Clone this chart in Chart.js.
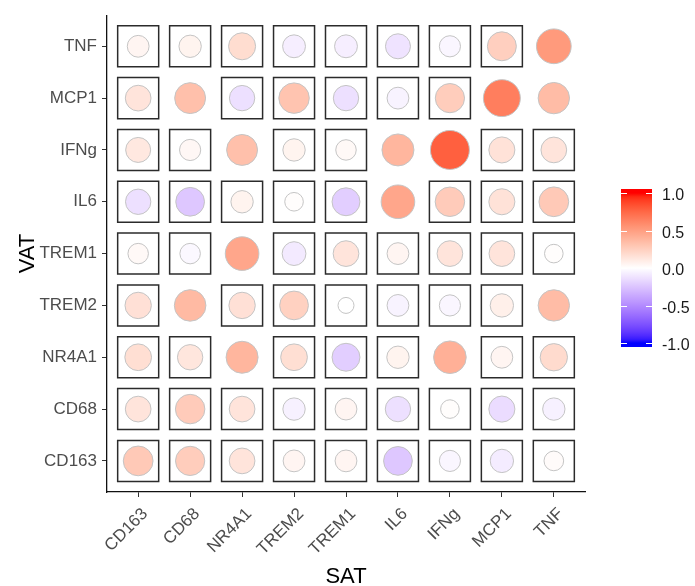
<!DOCTYPE html>
<html>
<head>
<meta charset="utf-8">
<script src="https://cdn.jsdelivr.net/npm/chart.js@4.4.1/dist/chart.umd.min.js"></script>
<style>
  html, body { margin: 0; padding: 0; background: #fff; }
  #wrap { width: 695px; height: 586px; }
</style>
</head>
<body>
<div id="wrap"><canvas id="corrChart" width="695" height="586"></canvas></div>
<script>
// genes on both axes, bottom-to-top for VAT, left-to-right for SAT
const satGenes = ['CD163', 'CD68', 'NR4A1', 'TREM2', 'TREM1', 'IL6', 'IFNg', 'MCP1', 'TNF'];
const vatGenes = ['CD163', 'CD68', 'NR4A1', 'TREM2', 'TREM1', 'IL6', 'IFNg', 'MCP1', 'TNF'];

// correlation of each VAT gene with the SAT genes (same order as satGenes)
const rCD163 = [0.28, 0.26, 0.14, 0.05, 0.05, -0.24, -0.04, -0.08, 0.02];
const rCD68  = [0.14, 0.27, 0.14, -0.06, 0.05, -0.13, 0.01, -0.15, -0.06];
const rNR4A1 = [0.17, 0.13, 0.38, 0.17, -0.21, 0.06, 0.41, 0.05, 0.19];
const rTREM2 = [0.16, 0.36, 0.16, 0.24, 0.00, -0.05, -0.04, 0.08, 0.35];
const rTREM1 = [0.03, -0.03, 0.46, -0.09, 0.14, 0.05, 0.14, 0.14, 0.01];
const rIL6   = [-0.13, -0.24, 0.06, 0.01, -0.21, 0.46, 0.27, 0.15, 0.28];
const rIFNg  = [0.12, 0.04, 0.33, 0.06, 0.03, 0.38, 0.78, 0.15, 0.14];
const rMCP1  = [0.14, 0.33, -0.13, 0.31, -0.13, -0.05, 0.26, 0.65, 0.35];
const rTNF   = [0.05, 0.06, 0.18, -0.07, -0.07, -0.12, -0.04, 0.25, 0.52];
const corrRows = [rCD163, rCD68, rNR4A1, rTREM2, rTREM1, rIL6, rIFNg, rMCP1, rTNF];

// significant pairs [VAT, SAT] - these get no box
const significantPairs = [
  ['TNF', 'TNF'],
  ['MCP1', 'CD68'], ['MCP1', 'MCP1'], ['MCP1', 'TNF'],
  ['IFNg', 'NR4A1'], ['IFNg', 'IL6'], ['IFNg', 'IFNg'],
  ['IL6', 'IL6'],
  ['TREM1', 'NR4A1'],
  ['TREM2', 'CD68'], ['TREM2', 'TNF'],
  ['NR4A1', 'NR4A1'], ['NR4A1', 'IFNg']
];

const legendTicks = [1.0, 0.5, 0.0, -0.5, -1.0];

// --- colour scale: blue -> white -> red, interpolated in Lab like ggplot ---
function toLin(c) { c /= 255; return c <= 0.04045 ? c / 12.92 : Math.pow((c + 0.055) / 1.055, 2.4); }
function fromLin(v) {
  v = v <= 0.0031308 ? 12.92 * v : 1.055 * Math.pow(v, 1 / 2.4) - 0.055;
  return Math.round(Math.max(0, Math.min(1, v)) * 255);
}
function rgbToLab(rgb) {
  const R = toLin(rgb[0]), G = toLin(rgb[1]), B = toLin(rgb[2]);
  const X = (0.4124 * R + 0.3576 * G + 0.1805 * B) / 0.95047;
  const Y = 0.2126 * R + 0.7152 * G + 0.0722 * B;
  const Z = (0.0193 * R + 0.1192 * G + 0.9505 * B) / 1.08883;
  const f = t => t > 0.008856 ? Math.cbrt(t) : 7.787 * t + 16 / 116;
  const fx = f(X), fy = f(Y), fz = f(Z);
  return [116 * fy - 16, 500 * (fx - fy), 200 * (fy - fz)];
}
function labToRgb(lab) {
  const fy = (lab[0] + 16) / 116, fx = fy + lab[1] / 500, fz = fy - lab[2] / 200;
  const inv = t => t > 0.206897 ? t * t * t : (t - 16 / 116) / 7.787;
  const X = inv(fx) * 0.95047, Y = inv(fy), Z = inv(fz) * 1.08883;
  const R = 3.2406 * X - 1.5372 * Y - 0.4986 * Z;
  const G = -0.9689 * X + 1.8758 * Y + 0.0415 * Z;
  const B = 0.0557 * X - 0.2040 * Y + 1.0570 * Z;
  return [fromLin(R), fromLin(G), fromLin(B)];
}
const LAB_WHITE = rgbToLab([255, 255, 255]);
const LAB_RED = rgbToLab([255, 0, 0]);
const LAB_BLUE = rgbToLab([0, 0, 255]);

function corrColor(v) {
  const t = Math.min(1, Math.abs(v));
  const end = v < 0 ? LAB_BLUE : LAB_RED;
  const lab = LAB_WHITE.map((w, i) => w + (end[i] - w) * t);
  const c = labToRgb(lab);
  return `rgb(${c[0]},${c[1]},${c[2]})`;
}

// area-style size scale on |r|
function circleRadius(v) {
  return (16 + 26 * Math.sqrt(Math.abs(v))) / 2;
}

function isSignificant(vat, sat) {
  return significantPairs.some(p => p[0] === vat && p[1] === sat);
}

const circlePoints = [];
const circleColors = [];
const boxPoints = [];
vatGenes.forEach((vat, yi) => {
  satGenes.forEach((sat, xi) => {
    const v = corrRows[yi][xi];
    circlePoints.push({ x: xi + 1, y: yi + 1, r: circleRadius(v) });
    circleColors.push(corrColor(v));
    if (!isSignificant(vat, sat)) boxPoints.push({ x: xi + 1, y: yi + 1, r: 29 });
  });
});

// colour bar legend drawn after the chart
const colorBarLegend = {
  id: 'colorBarLegend',
  afterDraw(chart) {
    const ctx = chart.ctx;
    const x = 621, w = 31, top = 189, h = 158;
    const yHi = 193, yLo = 343; // pixel of +1 and -1
    const grad = ctx.createLinearGradient(0, yHi, 0, yLo);
    for (let i = 0; i <= 40; i++) {
      grad.addColorStop(i / 40, corrColor(1 - i / 20));
    }
    ctx.save();
    ctx.fillStyle = grad;
    ctx.fillRect(x, top, w, h);
    ctx.strokeStyle = '#fff';
    ctx.lineWidth = 1;
    ctx.font = '16px "Liberation Sans", Arial, sans-serif';
    ctx.fillStyle = '#1a1a1a';
    ctx.textBaseline = 'middle';
    ctx.textAlign = 'left';
    legendTicks.forEach(t => {
      const y = Math.round(yHi + (1 - t) / 2 * (yLo - yHi)) + 0.5;
      ctx.beginPath();
      ctx.moveTo(x, y); ctx.lineTo(x + 6, y);
      ctx.moveTo(x + w - 6, y); ctx.lineTo(x + w, y);
      ctx.stroke();
      ctx.fillText(t.toFixed(1), 662, y + 2);
    });
    ctx.restore();
  }
};

const tickFont = { family: '"Liberation Sans", Arial, sans-serif', size: 17 };
const titleFont = { family: '"Liberation Sans", Arial, sans-serif', size: 22, lineHeight: 1 };

new Chart(document.getElementById('corrChart'), {
  type: 'bubble',
  data: {
    datasets: [
      {
        label: 'box',
        data: boxPoints,
        pointStyle: 'rect',
        backgroundColor: 'rgba(0,0,0,0)',
        borderColor: '#2b2b2b',
        borderWidth: 1.5
      },
      {
        label: 'corr',
        data: circlePoints,
        backgroundColor: circleColors,
        borderColor: '#c4c4c4',
        borderWidth: 1
      }
    ]
  },
  options: {
    responsive: false,
    animation: false,
    events: [],
    layout: { autoPadding: false, padding: { top: 11, right: 110, left: 0, bottom: 0 } },
    plugins: { legend: { display: false }, tooltip: { enabled: false } },
    scales: {
      x: {
        type: 'linear',
        min: 0.4,
        max: 9.6,
        afterBuildTicks: s => { s.ticks = satGenes.map((_, i) => ({ value: i + 1 })); },
        afterFit: s => { s.height = 94; },
        ticks: {
          autoSkip: false,
          minRotation: 45,
          maxRotation: 45,
          padding: 7,
          labelOffset: 7,
          color: '#4d4d4d',
          font: tickFont,
          callback: v => satGenes[v - 1]
        },
        grid: { drawOnChartArea: false, drawTicks: true, tickLength: 5, color: '#333', lineWidth: 1 },
        border: { display: true, color: '#111', width: 1.3 },
        title: { display: true, text: 'SAT', color: '#000', font: titleFont, padding: { top: 0, bottom: -2 } }
      },
      y: {
        type: 'linear',
        min: 0.4,
        max: 9.6,
        afterBuildTicks: s => { s.ticks = vatGenes.map((_, i) => ({ value: i + 1 })); },
        afterFit: s => { s.width = 107; },
        ticks: {
          autoSkip: false,
          padding: 5,
          color: '#4d4d4d',
          font: tickFont,
          callback: v => vatGenes[v - 1]
        },
        grid: { drawOnChartArea: false, drawTicks: true, tickLength: 5, color: '#333', lineWidth: 1 },
        border: { display: true, color: '#111', width: 1.3 },
        title: { display: true, text: 'VAT', color: '#000', font: titleFont, padding: { top: 17, bottom: 0 } }
      }
    }
  },
  plugins: [colorBarLegend]
});
</script>
</body>
</html>
